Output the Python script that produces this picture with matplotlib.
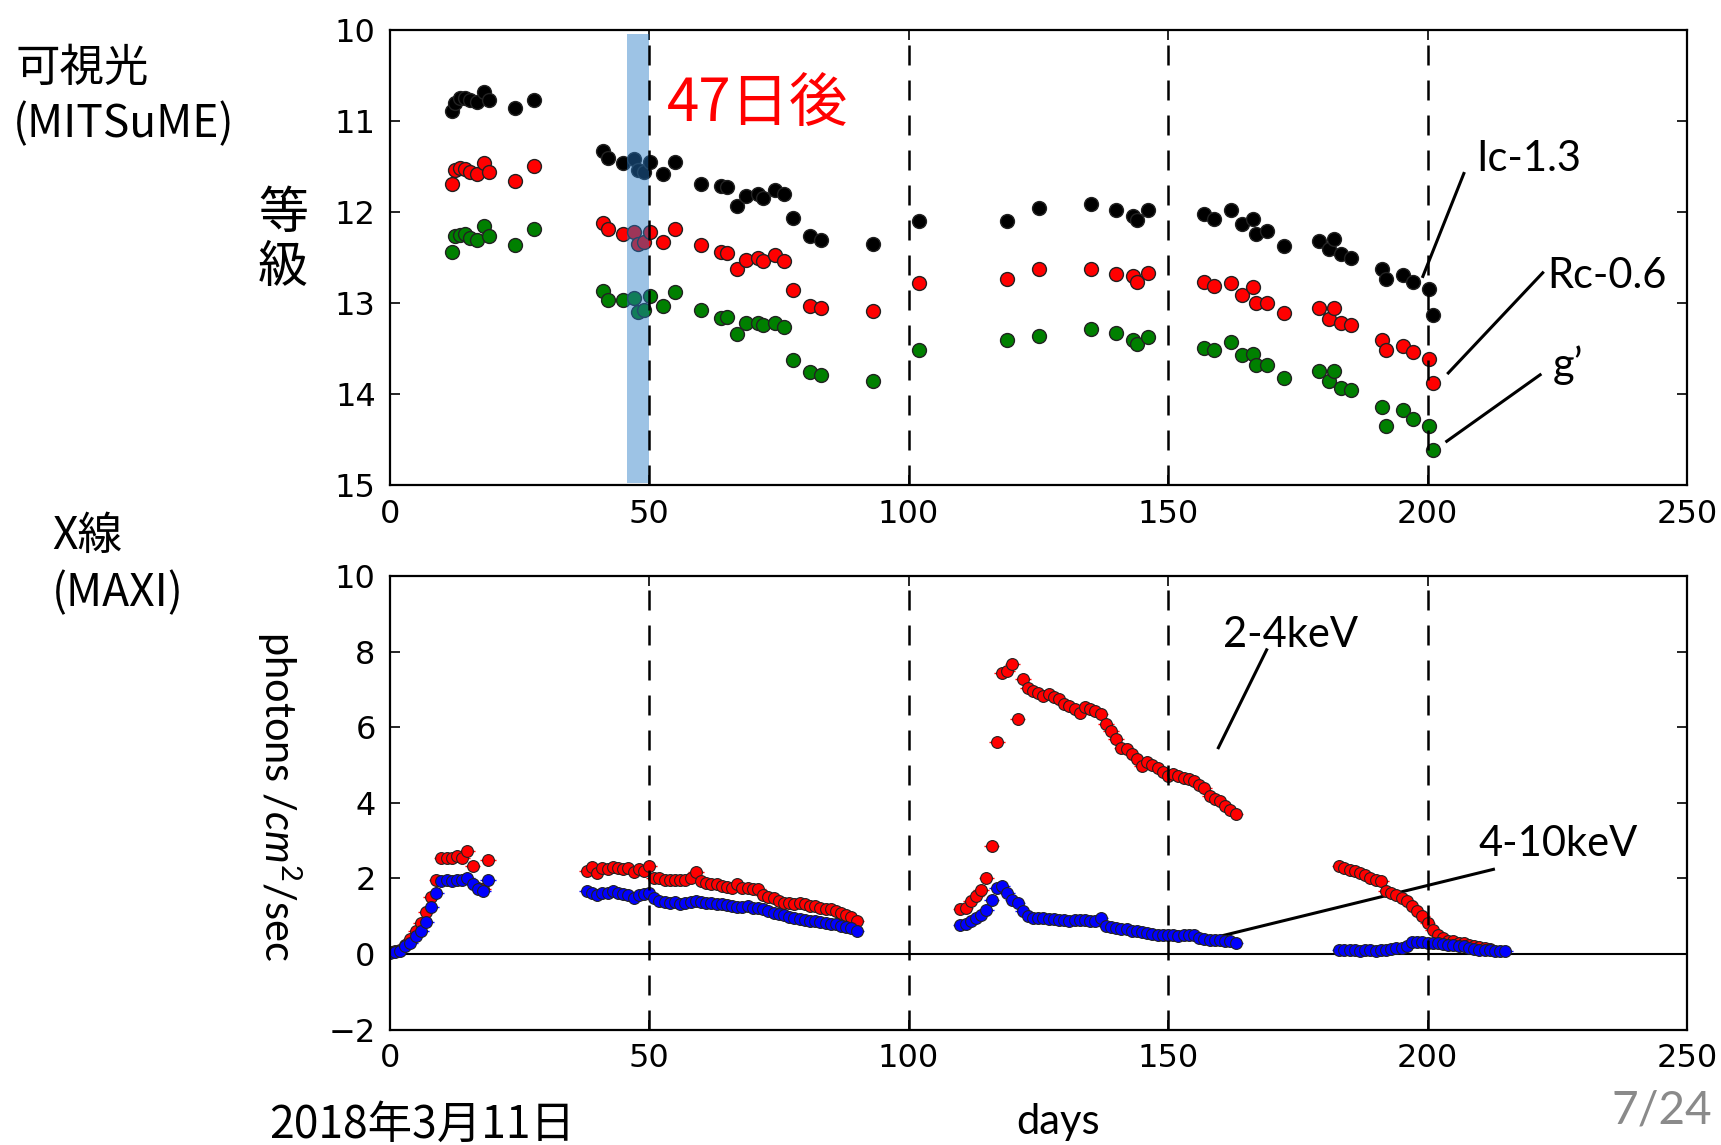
import matplotlib
matplotlib.use("Agg")
import matplotlib.pyplot as plt

plt.rcParams['font.family'] = ['DejaVu Sans']
plt.rcParams['mathtext.fontset'] = 'custom'
plt.rcParams['mathtext.rm'] = 'Lato'
plt.rcParams['mathtext.it'] = 'Lato:italic'

# MITSuME photometry (days since 2018-03-11, offset magnitudes)
opt_days = [12.0, 12.6, 13.6, 14.5, 15.5, 16.8, 18.1, 19.2, 24.2, 27.9,
            41.1, 42.0, 44.9, 47.0, 47.8, 49.0, 50.2, 52.7, 54.9, 60.1,
            63.9, 65.0, 66.9, 68.6, 71.0, 72.0, 74.3, 76.0, 77.8, 81.0,
            83.1, 93.2, 102.1, 119.0, 125.1, 135.1, 140.0, 143.2, 144.1, 146.2,
            156.9, 158.9, 162.1, 164.2, 166.3, 166.9, 169.1, 172.4, 179.1, 181.0,
            181.9, 183.3, 185.2, 191.3, 192.0, 195.3, 197.2, 200.3, 201.0]
mag_ic = [10.89, 10.81, 10.75, 10.75, 10.77, 10.79, 10.69, 10.77, 10.86, 10.77,
          11.33, 11.41, 11.46, 11.42, 11.54, 11.56, 11.45, 11.58, 11.45, 11.69,
          11.72, 11.73, 11.94, 11.83, 11.80, 11.85, 11.76, 11.80, 12.07, 12.27,
          12.31, 12.35, 12.10, 12.10, 11.96, 11.91, 11.98, 12.05, 12.09, 11.98,
          12.03, 12.08, 11.98, 12.13, 12.08, 12.24, 12.21, 12.38, 12.32, 12.41,
          12.30, 12.46, 12.51, 12.63, 12.74, 12.69, 12.77, 12.85, 13.13]
mag_rc = [11.69, 11.54, 11.52, 11.53, 11.56, 11.58, 11.47, 11.56, 11.66, 11.50,
          12.12, 12.19, 12.24, 12.22, 12.35, 12.33, 12.22, 12.33, 12.19, 12.37,
          12.44, 12.45, 12.63, 12.53, 12.51, 12.54, 12.47, 12.54, 12.86, 13.04,
          13.06, 13.09, 12.78, 12.74, 12.63, 12.63, 12.68, 12.71, 12.77, 12.67,
          12.77, 12.81, 12.78, 12.91, 12.83, 13.00, 13.00, 13.11, 13.06, 13.18,
          13.06, 13.22, 13.24, 13.41, 13.52, 13.47, 13.54, 13.62, 13.88]
mag_g = [12.44, 12.27, 12.25, 12.24, 12.29, 12.31, 12.16, 12.27, 12.37, 12.19,
         12.87, 12.97, 12.97, 12.95, 13.10, 13.08, 12.92, 13.04, 12.88, 13.08,
         13.17, 13.15, 13.34, 13.22, 13.22, 13.24, 13.22, 13.27, 13.63, 13.76,
         13.79, 13.86, 13.52, 13.41, 13.36, 13.29, 13.33, 13.41, 13.45, 13.38,
         13.50, 13.52, 13.43, 13.57, 13.56, 13.68, 13.68, 13.82, 13.75, 13.86,
         13.75, 13.93, 13.96, 14.14, 14.35, 14.18, 14.27, 14.35, 14.62]

# MAXI daily light curves, four visibility windows
soft_days = list(range(0, 20)) + list(range(38, 91)) + list(range(110, 164)) + list(range(183, 213))
soft_flux = [0.05, 0.07, 0.10, 0.25, 0.40, 0.60, 0.82, 1.10, 1.50, 1.95,
             2.55, 2.55, 2.55, 2.60, 2.55, 2.72, 2.33, 1.75, 1.72, 2.49,
             # 38-90
             2.20, 2.31, 2.13, 2.27, 2.24, 2.31, 2.27, 2.25, 2.27, 2.16,
             2.25, 2.20, 2.33, 2.02, 2.00, 1.95, 1.97, 1.96, 1.97, 1.97,
             2.02, 2.16, 1.93, 1.88, 1.86, 1.84, 1.79, 1.77, 1.75, 1.86,
             1.75, 1.75, 1.73, 1.71, 1.57, 1.52, 1.48, 1.40, 1.35, 1.35,
             1.33, 1.35, 1.31, 1.28, 1.26, 1.22, 1.20, 1.18, 1.13, 1.09,
             1.02, 0.97, 0.86,
             # 110-163
             1.20, 1.22, 1.40, 1.53, 1.70, 2.00, 2.86, 5.62, 7.43, 7.50,
             7.67, 6.23, 7.28, 7.03, 6.97, 6.92, 6.83, 6.88, 6.79, 6.75,
             6.61, 6.57, 6.48, 6.39, 6.53, 6.49, 6.44, 6.35, 6.10, 5.91,
             5.68, 5.46, 5.42, 5.30, 5.15, 4.98, 5.07, 5.00, 4.93, 4.82,
             4.71, 4.76, 4.72, 4.67, 4.62, 4.58, 4.48, 4.40, 4.18, 4.10,
             4.05, 3.92, 3.80, 3.70,
             # 183-212
             2.33, 2.28, 2.22, 2.19, 2.15, 2.08, 2.00, 1.95, 1.93, 1.66,
             1.62, 1.55, 1.49, 1.40, 1.27, 1.13, 1.00, 0.82, 0.64, 0.51,
             0.42, 0.35, 0.34, 0.30, 0.29, 0.25, 0.22, 0.18, 0.16, 0.14]

hard_days = list(range(0, 20)) + list(range(38, 91)) + list(range(110, 164)) + list(range(183, 216))
hard_flux = [0.03, 0.05, 0.07, 0.20, 0.30, 0.47, 0.62, 0.85, 1.24, 1.62,
             1.93, 1.95, 1.93, 1.97, 1.95, 2.00, 1.86, 1.72, 1.66, 1.97,
             # 38-90
             1.66, 1.62, 1.57, 1.62, 1.62, 1.66, 1.62, 1.58, 1.56, 1.49,
             1.57, 1.60, 1.62, 1.47, 1.41, 1.38, 1.35, 1.38, 1.31, 1.36,
             1.38, 1.41, 1.38, 1.35, 1.34, 1.33, 1.31, 1.29, 1.27, 1.24,
             1.25, 1.27, 1.22, 1.22, 1.18, 1.13, 1.09, 1.06, 1.03, 0.98,
             0.95, 0.92, 0.91, 0.88, 0.87, 0.85, 0.82, 0.80, 0.78, 0.75,
             0.72, 0.70, 0.62,
             # 110-163
             0.76, 0.80, 0.87, 0.95, 1.04, 1.17, 1.44, 1.75, 1.80, 1.62,
             1.44, 1.35, 1.13, 1.00, 0.95, 0.95, 0.95, 0.93, 0.93, 0.91,
             0.91, 0.86, 0.90, 0.91, 0.91, 0.88, 0.86, 0.95, 0.73, 0.71,
             0.69, 0.67, 0.65, 0.62, 0.60, 0.58, 0.56, 0.53, 0.51, 0.51,
             0.51, 0.49, 0.47, 0.50, 0.51, 0.49, 0.42, 0.40, 0.38, 0.37,
             0.36, 0.35, 0.33, 0.29,
             # 183-215
             0.11, 0.11, 0.11, 0.10, 0.09, 0.10, 0.11, 0.09, 0.10, 0.11,
             0.13, 0.15, 0.16, 0.20, 0.32, 0.32, 0.31, 0.30, 0.29, 0.29,
             0.27, 0.25, 0.25, 0.22, 0.20, 0.16, 0.13, 0.11, 0.11, 0.10,
             0.09, 0.08, 0.07]

guide_days = [50, 100, 150, 200]
day_ticks = [0, 50, 100, 150, 200, 250]

W, H = 1721, 1145
fig = plt.figure(figsize=(W / 100, H / 100), dpi=100)
ax1 = fig.add_axes([389.6 / W, 1 - 485 / H, 1297.4 / W, 455.4 / H])
ax2 = fig.add_axes([389.6 / W, 1 - 1029.5 / H, 1297.4 / W, 453.3 / H])

cjk = ['Noto Sans CJK JP', 'DejaVu Sans']
dash = (0, (8, 6))

for ax in (ax1, ax2):
    ax.set_xlim(0, 250)
    ax.set_xticks(day_ticks)
    ax.tick_params(direction='in', top=True, right=True, length=7, width=1.2,
                   labelsize=23, pad=10)
    for s in ax.spines.values():
        s.set_linewidth(1.6)
    for d in guide_days:
        ax.axvline(d, color='k', lw=1.8, linestyle=dash, zorder=5)

# optical magnitudes
ax1.set_ylim(15, 10)
ax1.set_yticks([10, 11, 12, 13, 14, 15])
ax1.plot(opt_days, mag_ic, 'o', color='k', mec='#222222', ms=10, mew=1)
ax1.plot(opt_days, mag_rc, 'o', color='r', mec='#222222', ms=10, mew=1)
ax1.plot(opt_days, mag_g, 'o', color='g', mec='#222222', ms=10, mew=1)
ax1.axvspan(45.7, 50.0, ymin=0.004, ymax=0.99, color='#267ac7', alpha=0.45, lw=0, zorder=4)
ax1.text(53.4, 11.0, '47日後', color='r', fontsize=42, family=cjk, va='baseline')

ax1.text(209.4, 11.55, 'Ic-1.3', family='Lato', fontsize=30, va='baseline')
ax1.text(223.0, 12.84, 'Rc-0.6', family='Lato', fontsize=30, va='baseline')
ax1.text(224.2, 13.83, 'g’', family='Lato', fontsize=30, va='baseline')
ax1.plot([207.0, 199.1], [11.58, 12.71], color='k', lw=2.2)
ax1.plot([222.2, 204.0], [12.67, 13.77], color='k', lw=2.2)
ax1.plot([221.7, 203.7], [13.79, 14.52], color='k', lw=2.2)

# X-ray fluxes
ax2.set_ylim(-2, 10)
ax2.set_yticks([-2, 0, 2, 4, 6, 8, 10])
ax2.axhline(0, color='k', lw=1.5)
ax2.errorbar(soft_days, soft_flux, xerr=1.5, fmt='o', color='r', ecolor='r',
             mec='#222222', ms=8.5, mew=0.8, elinewidth=1, capsize=0)
ax2.errorbar(hard_days, hard_flux, xerr=1.5, fmt='o', color='b', ecolor='b',
             mec='#222222', ms=8.5, mew=0.8, elinewidth=1, capsize=0)
ax2.text(160.6, 8.12, '2-4keV', family='Lato', fontsize=30, va='baseline')
ax2.text(209.8, 2.59, '4-10keV', family='Lato', fontsize=30, va='baseline')
ax2.plot([169.0, 159.7], [8.05, 5.46], color='k', lw=2.2)
ax2.plot([212.7, 156.5], [2.24, 0.35], color='k', lw=2.2)

# side labels
fig.text(16 / W, 1 - 68 / H, '可視光', family=cjk, fontsize=32, va='center')
fig.text(13 / W, 1 - 124 / H, '(MITSuME)', family=cjk, fontsize=32, va='center')
fig.text(283 / W, 1 - 241 / H, '等\n級', family=cjk, fontsize=36, ha='center',
         va='center', linespacing=1.05)
fig.text(52 / W, 1 - 536 / H, 'X線', family=cjk, fontsize=32, va='center')
fig.text(52 / W, 1 - 593 / H, '(MAXI)', family=cjk, fontsize=32, va='center')
fig.text(279 / W, 1 - 796 / H, 'photons /$cm^2$/sec', family='Lato', fontsize=30,
         rotation=270, ha='center', va='center')
fig.text(269 / W, 1 - 1125 / H, '2018年3月11日', family=cjk, fontsize=32, va='center')
fig.text(1058 / W, 1 - 1122 / H, 'days', family='Lato', fontsize=30, ha='center', va='center')
fig.text(1712 / W, 1 - 1111 / H, '7/24', family='Lato', fontsize=33, color='#8a8a8a',
         ha='right', va='center')

fig.savefig('out.png', dpi=100)
